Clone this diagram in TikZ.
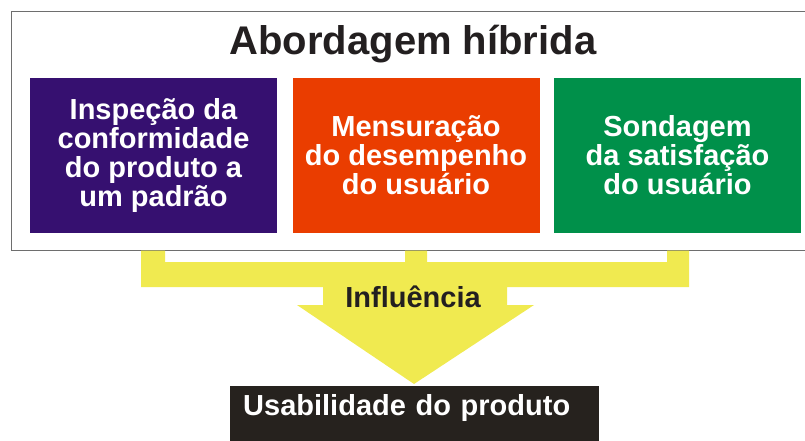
\documentclass[tikz,border=0pt]{standalone}
\usepackage{fontspec}
\setmainfont{Liberation Sans}
\definecolor{insppurple}{RGB}{54,16,112}
\definecolor{mensorange}{RGB}{234,61,0}
\definecolor{sondgreen}{RGB}{0,144,74}
\definecolor{inflyellow}{RGB}{240,234,80}
\definecolor{usabblack}{RGB}{38,34,30}
\definecolor{darktext}{RGB}{35,31,32}
\definecolor{framegray}{RGB}{110,110,110}
\begin{document}
\begin{tikzpicture}[x=1pt,y=-1pt]
\useasboundingbox (0,0) rectangle (805,441);
\tikzstyle{box} = [rectangle, minimum width=247pt, minimum height=155pt, inner sep=0pt, text=white, align=center, font=\fontsize{29}{29}\selectfont\bfseries]
\tikzstyle{bigtext} = [font=\fontsize{29}{29}\selectfont\bfseries]
\node (frame) [rectangle, draw=framegray, line width=1pt, fill=white, inner sep=0pt, minimum width=810pt, minimum height=239pt, anchor=north west] at (11,11) {};
\node (title) [anchor=base, text=darktext, font=\fontsize{40}{40}\selectfont\bfseries] at (413,55) {Abordagem híbrida};
\node (insp) [box, fill=insppurple] at (153.5,155.5) {Inspeção da\\conformidade\\do produto a\\um padrão};
\node (mens) [box, fill=mensorange] at (416,155.5) {Mensuração\\do desempenho\\do usuário};
\node (sond) [box, fill=sondgreen] at (677.5,155.5) {Sondagem\\da satisfação\\do usuário};
% yellow arrow
\fill [inflyellow] (141,250.5) -- (165,250.5) -- (165,262) -- (405,262) -- (405,250.5) -- (427,250.5) -- (427,262) -- (667,262) -- (667,250.5) -- (689,250.5) -- (689,287) -- (507,287) -- (507,305) -- (534,305) -- (414,384) -- (297,305) -- (323,305) -- (323,287) -- (141,287) -- cycle;
\node (infl) [bigtext, anchor=base, text=darktext] at (413,307) {Influência};
\node (usab) [bigtext, anchor=north west, fill=usabblack, text=white, inner xsep=13pt, inner ysep=8pt, text width=343pt, text height=21pt, text depth=34pt, align=left] at (230,386) {Usabilidade do produto};
\end{tikzpicture}
\end{document}
